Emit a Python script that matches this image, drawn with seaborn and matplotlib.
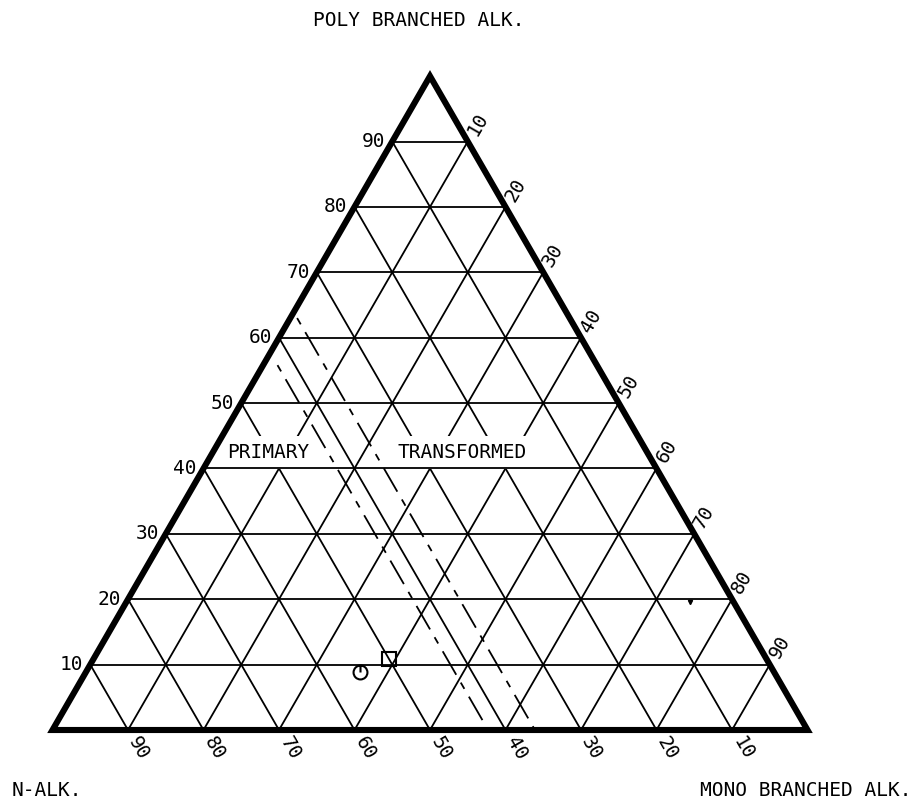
import numpy as np
import pandas as pd
import matplotlib
matplotlib.use("Agg")
import matplotlib.pyplot as plt
from matplotlib.path import Path
from matplotlib.patches import Polygon
import seaborn as sns

# ---------------- data ----------------
grid_levels = [10, 20, 30, 40, 50, 60, 70, 80, 90]
left_tick_labels = ["10", "20", "30", "40", "50", "60", "70", "80", "90"]    # POLY BRANCHED (P)
bottom_tick_labels = ["10", "20", "30", "40", "50", "60", "70", "80", "90"]  # N-ALK. (N)
right_tick_labels = ["10", "20", "30", "40", "50", "60", "70", "80", "90"]   # MONO BRANCHED (M)

# dashed boundary lines between PRIMARY and TRANSFORMED fields (N %, P %)
boundary_primary_N = [42.3, 42.3]
boundary_primary_P = [55.8, 0.0]
boundary_transformed_N = [36.1, 36.1]
boundary_transformed_P = [63.0, 0.0]

# samples (N %, M %, P %)
square_N, square_M, square_P = [50.0], [39.2], [10.8]
circle_N, circle_M, circle_P = [54.8], [36.3], [8.9]
dot_N, dot_M, dot_P = [5.8], [74.6], [19.6]

field_labels = ["PRIMARY", "TRANSFORMED"]
field_M = [7.4, 33.0]
field_P = [42.4, 42.4]

# ---------------- helpers ----------------
S3 = np.sqrt(3) / 2


def tern(m, p):
    m = np.asarray(m, float)
    p = np.asarray(p, float)
    return m + p / 2, p * S3


PX = 7.55  # pixels per data unit

sns.set_theme(style="white")
plt.rcParams["font.family"] = ["DejaVu Sans Mono", "DejaVu Sans"]
plt.rcParams["text.color"] = "black"

fig = plt.figure(figsize=(9.14, 8.07), dpi=100)
ax = fig.add_axes([0, 0, 1, 1])
ax.set_xlim(-52.5 / PX, (914 - 52.5) / PX)
ax.set_ylim((730 - 807) / PX, 730 / PX)
ax.set_aspect("equal", adjustable="datalim")
ax.axis("off")

# ---------------- grid ----------------
hrows, srows = [], []
lid = 0
for k in grid_levels:
    # constant P (horizontal)
    for (m, p) in [(0, k), (100 - k, k)]:
        x, y = tern(m, p)
        hrows.append((lid, float(x), float(y)))
    lid += 1
    # constant M
    for (m, p) in [(k, 0), (k, 100 - k)]:
        x, y = tern(m, p)
        srows.append((lid, float(x), float(y)))
    lid += 1
    # constant N
    for (m, p) in [(100 - k, 0), (0, 100 - k)]:
        x, y = tern(m, p)
        srows.append((lid, float(x), float(y)))
    lid += 1
slant_df = pd.DataFrame(srows, columns=["line", "x", "y"])
horiz_df = pd.DataFrame(hrows, columns=["line", "x", "y"])
sns.lineplot(data=slant_df, x="x", y="y", units="line", estimator=None, sort=False,
             color="black", lw=1.3, ax=ax, legend=False, zorder=1)
sns.lineplot(data=horiz_df, x="x", y="y", units="line", estimator=None, sort=False,
             color="black", lw=1.3, ax=ax, legend=False, zorder=2.5)

# outer triangle
tx, ty = tern([0, 100, 0], [0, 0, 100])
ax.add_patch(Polygon(np.column_stack([tx, ty]), closed=True, fill=False,
                     edgecolor="black", lw=4.4, joinstyle="miter", zorder=4))

# ---------------- boundaries ----------------
for Ns, Ps in [(boundary_primary_N, boundary_primary_P),
               (boundary_transformed_N, boundary_transformed_P)]:
    Ms = [100 - n - p for n, p in zip(Ns, Ps)]
    bx, by = tern(Ms, Ps)
    bdf = pd.DataFrame({"x": bx, "y": by})
    sns.lineplot(data=bdf, x="x", y="y", sort=False, estimator=None, color="black",
                 lw=1.3, ax=ax, zorder=1.5, linestyle=(0, (4.0, 5.0, 15, 5.0)))

# ---------------- samples ----------------
circ_path = Path.make_compound_path(Path.unit_circle(),
                                    Path([[0, 1], [0, 0]], [Path.MOVETO, Path.LINETO]))
sx, sy = tern(square_M, square_P)
ax.plot(sx, sy, marker="s", ms=10.5, mfc="none", mec="black", mew=1.5, ls="none", zorder=5)
cx, cy = tern(circle_M, circle_P)
ax.plot(cx, cy, marker=circ_path, ms=10, mfc="none", mec="black", mew=1.5, ls="none", zorder=5)
dx, dy = tern(dot_M, dot_P)
ax.plot(dx, dy, marker="v", ms=3, color="black", ls="none", zorder=5)

# ---------------- tick labels ----------------
fs = 14
for k, lab in zip(grid_levels, left_tick_labels):
    x, y = tern(0, k)
    ax.text(x - 7 / PX, y, lab, ha="right", va="center", fontsize=fs, zorder=6)

for k, lab in zip(grid_levels, bottom_tick_labels):
    x, y = tern(100 - k, 0)
    d = 10 / PX
    ax.text(x + d * 0.5, y - d * S3, lab, rotation=-60, rotation_mode="anchor",
            ha="left", va="center", fontsize=fs, zorder=6)

for k, lab in zip(grid_levels, right_tick_labels):
    x, y = tern(k, 100 - k)
    d = 8 / PX
    ax.text(x + d * 0.5, y + d * S3, lab, rotation=60, rotation_mode="anchor",
            ha="left", va="center", fontsize=fs, zorder=6)

# ---------------- field labels ----------------
for lab, m, p in zip(field_labels, field_M, field_P):
    x, y = tern(m, p)
    ax.text(x, y, lab, ha="center", va="center", fontsize=fs, zorder=2.2,
            bbox=dict(facecolor="white", edgecolor="none", pad=5))

# ---------------- axis titles ----------------
fig.text(419 / 914, 1 - 21 / 807, "POLY BRANCHED ALK.", ha="center", va="center", fontsize=fs)
fig.text(12 / 914, 1 - 790 / 807, "N-ALK.", ha="left", va="center", fontsize=fs)
fig.text(912 / 914, 1 - 790 / 807, "MONO BRANCHED ALK.", ha="right", va="center", fontsize=fs)

fig.savefig("out.png", dpi=100)
